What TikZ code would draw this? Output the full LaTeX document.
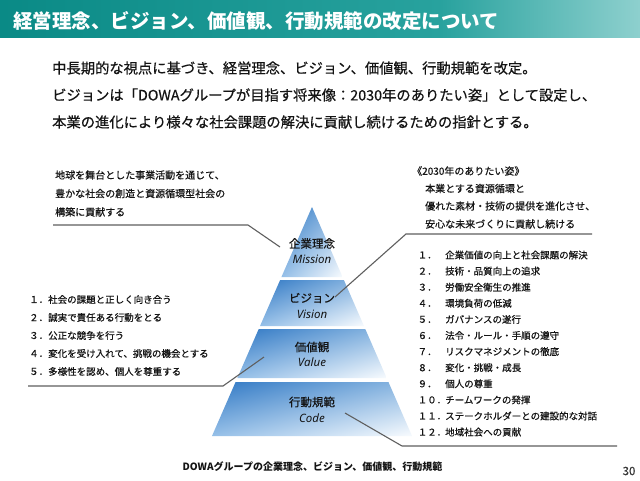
\documentclass[tikz,border=0pt]{standalone}
\usepackage{fontspec}
\setmainfont{Noto Sans CJK JP}[UprightFeatures={FakeBold=0.5}]
\newfontfamily\latsans{Noto Sans}
\usetikzlibrary{calc,shadings}
\definecolor{teal1}{RGB}{10,138,134}
\definecolor{teal2}{RGB}{40,162,158}
\definecolor{teal3}{RGB}{142,208,206}
\definecolor{txt}{RGB}{20,20,20}
\definecolor{connc}{RGB}{95,95,95}
\definecolor{pb1}{RGB}{48,120,196}
\definecolor{pb2}{RGB}{140,184,226}
\definecolor{pb3}{RGB}{150,192,232}
\definecolor{pb4}{RGB}{248,251,254}
\newcommand{\pyrtier}[2]{%
  \pgfmathsetmacro{\tiertop}{0.4367*(#1-207)}%
  \pgfmathsetmacro{\tierbot}{0.4367*(#2-207)}%
  \begin{scope}
    \clip (312-\tiertop,#1) -- (312+\tiertop,#1) -- (312+\tierbot,#2) -- (312-\tierbot,#2) -- cycle;
    \shade[upper left=pb1, upper right=pb2, lower left=pb3, lower right=pb4]
      (312-\tierbot,#1) rectangle (312+\tierbot,#2);
  \end{scope}}
\begin{document}
\begin{tikzpicture}[x=1pt,y=-1pt,
  jtxt/.style={anchor=west, inner sep=0pt, text=txt},
  conn/.style={draw=connc, line width=1.1pt},
  tierlbl/.style={inner sep=0pt, text=txt, font=\fontsize{11.5}{13}\selectfont},
  tiersub/.style={inner sep=0pt, text=txt, font=\latsans\itshape\fontsize{11.5}{13}\selectfont},
  bodyfont/.style={font=\fontsize{14.3}{17}\selectfont},
  notefont/.style={font=\fontsize{10}{12}\selectfont},
  listfont/.style={font=\fontsize{9.5}{11}\selectfont}]
\useasboundingbox (0,0) rectangle (640,480);
\fill[white] (0,0) rectangle (640,480);
% title bar
\shade[left color=teal1, right color=teal2] (0,0) rectangle (440.5,37.5);
\shade[left color=teal2, right color=teal3] (440,0) rectangle (640,37.5);
\node[jtxt, text=white, font=\fontsize{19.5}{22}\bfseries] (title) at (13,20.5) {経営理念、ビジョン、価値観、行動規範の改定について};
% main text
\node[jtxt, bodyfont] (m1) at (52,68) {中長期的な視点に基づき、経営理念、ビジョン、価値観、行動規範を改定。};
\node[jtxt, bodyfont] (m2) at (52,95) {ビジョンは「DOWAグループが目指す将来像：2030年のありたい姿」として設定し、};
\node[jtxt, bodyfont] (m3) at (52,122) {本業の進化により様々な社会課題の解決に貢献し続けるための指針とする。};
% pyramid
\pyrtier{207}{277}
\pyrtier{280}{326}
\pyrtier{329}{378}
\pyrtier{382}{436}
\node[tierlbl] (t1) at (312,243.5) {企業理念};
\node[tiersub] (t1e) at (312,259.5) {Mission};
\node[tierlbl] (t2) at (312,298) {ビジョン};
\node[tiersub] (t2e) at (312,314) {Vision};
\node[tierlbl] (t3) at (312,347) {価値観};
\node[tiersub] (t3e) at (312,362.5) {Value};
\node[tierlbl] (t4) at (312,402) {行動規範};
\node[tiersub] (t4e) at (312,418) {Code};
% top-left note
\node[jtxt, notefont] (n1) at (55,175) {地球を舞台とした事業活動を通じて、};
\node[jtxt, notefont] (n2) at (55,193.5) {豊かな社会の創造と資源循環型社会の};
\node[jtxt, notefont] (n3) at (55,212) {構築に貢献する};
% top-right note
\node[jtxt, notefont] (v0) at (412,171) {《2030年のありたい姿》};
\node[jtxt, notefont] (v1) at (425,188.5) {本業とする資源循環と};
\node[jtxt, notefont] (v2) at (425,206) {優れた素材・技術の提供を進化させ、};
\node[jtxt, notefont] (v3) at (425,224) {安心な未来づくりに貢献し続ける};
% left list (values)
\foreach \num/\item [count=\i] in {１．/社会の課題と正しく向き合う, ２．/誠実で責任ある行動をとる, ３．/公正な競争を行う, ４．/変化を受け入れて、挑戦の機会とする, ５．/多様性を認め、個人を尊重する}{
  \node[jtxt, listfont] (ln\i) at (29,{299.5+18*(\i-1)}) {\num};
  \node[jtxt, listfont] (lt\i) at (48,{299.5+18*(\i-1)}) {\item};
}
% right list (code)
\foreach \num/\item [count=\i] in {１．/企業価値の向上と社会課題の解決, ２．/技術・品質向上の追求, ３．/労働安全衛生の推進, ４．/環境負荷の低減, ５．/ガバナンスの遂行, ６．/法令・ルール・手順の遵守, ７．/リスクマネジメントの徹底, ８．/変化・挑戦・成長, ９．/個人の尊重, １０．/チームワークの発揮, １１．/ステークホルダーとの建設的な対話, １２．/地域社会への貢献}{
  \node[jtxt, listfont] (rn\i) at (417.5,{255+16.1*(\i-1)}) {\num};
  \node[jtxt, listfont] (rt\i) at (445,{255+16.1*(\i-1)}) {\item};
}
% connectors
\coordinate (a1) at (53,225);
\coordinate (a2) at (248,225);
\coordinate (a3) at (280,247);
\draw[conn] (a1) -- (a2) -- (a3);
\coordinate (b1) at (335,297);
\coordinate (b2) at (406,234);
\coordinate (b3) at (592,234);
\draw[conn] (b1) -- (b2) -- (b3);
\coordinate (c1) at (264,357);
\coordinate (c2) at (223,386);
\coordinate (c3) at (28,386);
\draw[conn] (c1) -- (c2) -- (c3);
\coordinate (d1) at (345,413);
\coordinate (d2) at (402,446);
\coordinate (d3) at (617,446);
\draw[conn] (d1) -- (d2) -- (d3);
% caption and page number
\node[inner sep=0pt, text=txt, font=\fontsize{10}{12}\bfseries] (cap) at (312.5,467) {DOWAグループの企業理念、ビジョン、価値観、行動規範};
\node[inner sep=0pt, text=txt!85, font=\fontsize{11.5}{13}\selectfont] (pg) at (629,471) {30};
\end{tikzpicture}
\end{document}
